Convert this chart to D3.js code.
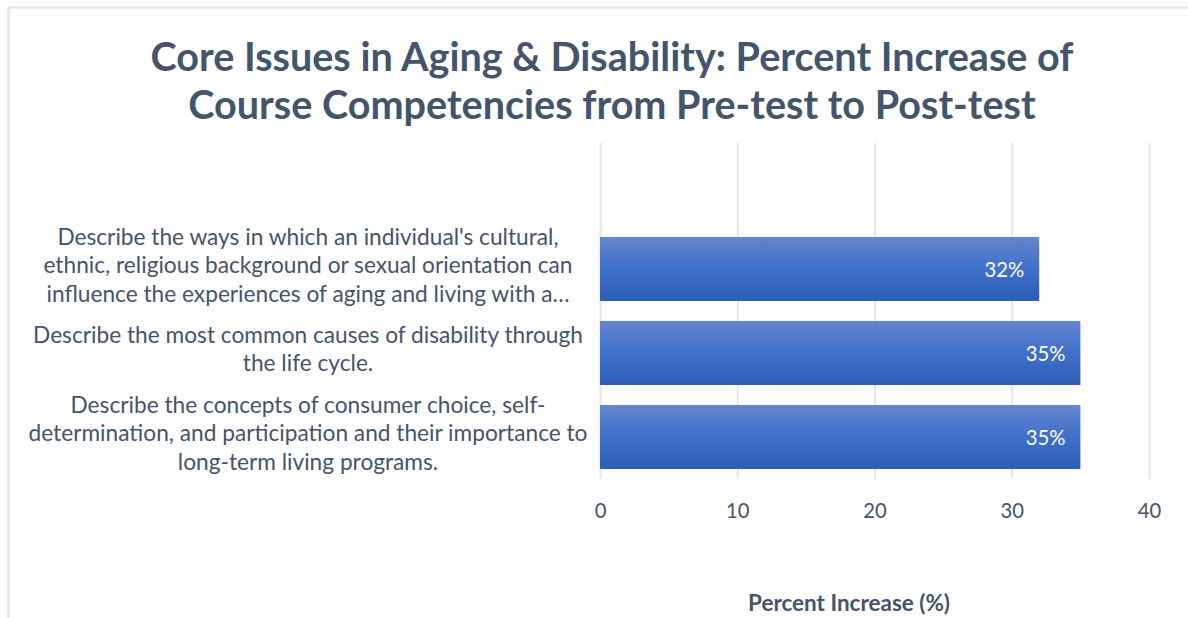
<!DOCTYPE html>
<html>
<head>
<meta charset="utf-8">
<script src="https://cdn.jsdelivr.net/npm/d3@7"></script>
<style>
  html, body { margin: 0; padding: 0; background: #ffffff; }
  svg { display: block; }
</style>
</head>
<body>
<svg id="chart" width="1188" height="618"></svg>
<script>
// ---- data ----
const titleLines = [
  "Core Issues in Aging & Disability: Percent Increase of",
  "Course Competencies from Pre-test to Post-test"
];
const categories = [
  "Describe the ways in which an individual's cultural, ethnic, religious background or sexual orientation can influence the experiences of aging and living with a…",
  "Describe the most common causes of disability through the life cycle.",
  "Describe the concepts of consumer choice, self-determination, and participation and their importance to long-term living programs."
];
const categoryLines = [
  ["Describe the ways in which an individual's cultural,",
   "ethnic, religious background or sexual orientation can",
   "influence the experiences of aging and living with a…"],
  ["Describe the most common causes of disability through",
   "the life cycle."],
  ["Describe the concepts of consumer choice, self-",
   "determination, and participation and their importance to",
   "long-term living programs."]
];
const values = [32, 35, 35];
const xTicks = [0, 10, 20, 30, 40];
const xAxisTitle = "Percent Increase (%)";

// ---- layout ----
const W = 1188, H = 618;
const plot = { left: 600, right: 1149, top: 143, bottom: 479 };
const textColor = "#44546a";
const gridColor = "#e2e5ea";
const FONT = "Lato, 'Open Sans', 'Noto Sans', sans-serif";

const svg = d3.select("#chart");
svg.append("rect").attr("width", W).attr("height", H).attr("fill", "#fff");

// outer border (chart area edge)
svg.append("path")
  .attr("d", `M8.5,${H} V7.5 H${W}`)
  .attr("fill", "none")
  .attr("stroke", "#e3e6eb")
  .attr("stroke-width", 2.5);

const defs = svg.append("defs");
const grad = defs.append("linearGradient")
  .attr("id", "barGrad").attr("x1", 0).attr("y1", 0).attr("x2", 0).attr("y2", 1);
grad.append("stop").attr("offset", "0%").attr("stop-color", "#6586cd");
grad.append("stop").attr("offset", "50%").attr("stop-color", "#3f70cb");
grad.append("stop").attr("offset", "100%").attr("stop-color", "#2d5eb5");

const x = d3.scaleLinear().domain([0, 40]).range([plot.left, plot.right]);
const y = d3.scaleBand()
  .domain(categories)
  .range([227, plot.bottom])
  .paddingInner(0.238)
  .paddingOuter(0.119);

function condense(sel, factor) {
  sel.each(function () {
    const w = this.getComputedTextLength();
    d3.select(this).attr("textLength", w * factor).attr("lengthAdjust", "spacingAndGlyphs");
  });
}

// axis with gridlines
const axis = svg.append("g")
  .attr("transform", `translate(0,${plot.bottom})`)
  .call(d3.axisBottom(x).tickValues(xTicks).tickSize(-(plot.bottom - plot.top)).tickFormat(d3.format("d")));
axis.select(".domain").remove();
axis.selectAll(".tick line").attr("stroke", gridColor).attr("stroke-width", 2);
axis.selectAll(".tick text")
  .attr("y", 39).attr("dy", 0)
  .attr("fill", textColor)
  .style("font-family", FONT)
  .style("font-size", "22px");
condense(axis.selectAll(".tick text"), 0.92);

// bars
svg.append("g").selectAll("rect")
  .data(values)
  .join("rect")
  .attr("x", x(0))
  .attr("y", (d, i) => y(categories[i]))
  .attr("width", d => x(d) - x(0))
  .attr("height", y.bandwidth())
  .attr("fill", "url(#barGrad)");

// data labels
const dl = svg.append("g").selectAll("text")
  .data(values)
  .join("text")
  .attr("x", d => x(d) - 15)
  .attr("y", (d, i) => y(categories[i]) + y.bandwidth() / 2 + 8)
  .attr("text-anchor", "end")
  .attr("fill", "#ffffff")
  .style("font-family", FONT)
  .style("font-size", "22px")
  .text(d => d + "%");
condense(dl, 0.92);

// category labels
const lineH = 28.5;
const labG = svg.append("g");
const labelTexts = [];
categoryLines.forEach((lines, i) => {
  const cy = y(categories[i]) + y.bandwidth() / 2 - 4;
  const n = lines.length;
  lines.forEach((ln, j) => {
    const t = labG.append("text")
      .attr("x", 308)
      .attr("y", cy + (j - (n - 1) / 2) * lineH + 8)
      .attr("text-anchor", "middle")
      .attr("fill", textColor)
      .style("font-family", FONT)
      .style("font-size", "23px")
      .text(ln);
    labelTexts.push(t);
  });
});
// condense labels to match reference widths
const widest = d3.max(labelTexts, t => t.node().getComputedTextLength());
const labFactor = 559 / widest;
labelTexts.forEach(t => {
  const w = t.node().getComputedTextLength();
  t.attr("textLength", w * labFactor).attr("lengthAdjust", "spacingAndGlyphs");
});

// title
const titleG = svg.append("g");
const titleTexts = titleLines.map((ln, i) =>
  titleG.append("text")
    .attr("x", 612)
    .attr("y", 71 + i * 48)
    .attr("text-anchor", "middle")
    .attr("fill", textColor)
    .style("font-family", FONT)
    .style("font-weight", "bold")
    .style("font-size", "41px")
    .text(ln)
);
const tFactor = 923 / titleTexts[0].node().getComputedTextLength();
titleTexts.forEach(t => {
  const w = t.node().getComputedTextLength();
  t.attr("textLength", w * tFactor).attr("lengthAdjust", "spacingAndGlyphs");
});

// axis title
const at = svg.append("text")
  .attr("x", 849)
  .attr("y", 611)
  .attr("text-anchor", "middle")
  .attr("fill", textColor)
  .style("font-family", FONT)
  .style("font-weight", "bold")
  .style("font-size", "22px")
  .text(xAxisTitle);
condense(at, 202 / at.node().getComputedTextLength());
</script>
</body>
</html>
